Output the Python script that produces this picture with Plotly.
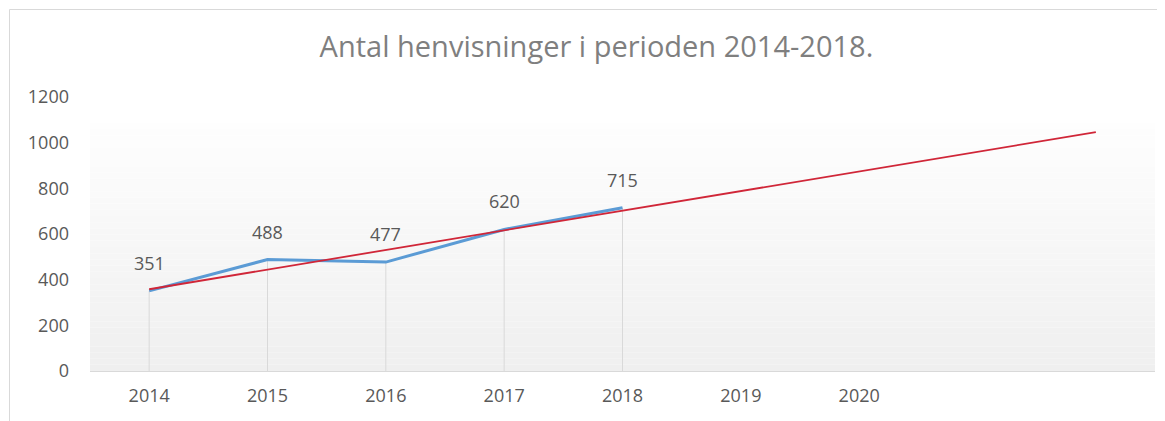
import plotly.graph_objects as go

# ---- data ----
categories = ["2014", "2015", "2016", "2017", "2018", "2019", "2020", "2021", "2022"]
tick_labels = ["2014", "2015", "2016", "2017", "2018", "2019", "2020"]
years = ["2014", "2015", "2016", "2017", "2018"]
referrals = [351, 488, 477, 620, 715]
trend_years = ["2014", "2022"]
trend_values = [358, 1046]
title_text = "Antal henvisninger i perioden 2014-2018."

FONT = "Open Sans"
TXT = "#595959"

# figure is placed by the page at an 8px offset; size it to fill the window
W, H = 1157, 413
ML, MR, MT, MB = 82, 10, 89, 50
PW = W - ML - MR
PH = H - MT - MB

fig = go.Figure()

# drop lines from each point to the axis
fig.add_trace(go.Scatter(
    x=years, y=referrals, mode="markers",
    marker=dict(size=0.1, color="rgba(0,0,0,0)"),
    error_y=dict(type="data", symmetric=False, array=[0] * len(referrals),
                 arrayminus=referrals, thickness=1, width=0, color="#d9d9d9"),
    hoverinfo="skip", showlegend=False,
))

fig.add_trace(go.Scatter(
    x=years, y=referrals, mode="lines",
    line=dict(color="#5b9bd5", width=3),
    showlegend=False, hoverinfo="skip",
))

fig.add_trace(go.Scatter(
    x=trend_years, y=trend_values, mode="lines",
    line=dict(color="#d02638", width=1.8),
    showlegend=False, hoverinfo="skip",
))

# data labels (category axes take the category index for annotations)
for x, v in zip(years, referrals):
    fig.add_annotation(x=categories.index(x), y=v, xref="x", yref="y",
                       text=str(v), showarrow=False, yshift=28,
                       font=dict(family=FONT, size=18, color=TXT))

# gradient background bands
shapes = []
n = 40
top = 0.905
c_bot = 239
c_top = 254
for i in range(n):
    y0 = top * i / n
    y1 = top * (i + 1) / n
    c = round(c_bot + (c_top - c_bot) * (i + 0.5) / n)
    shapes.append(dict(type="rect", xref="paper", yref="paper", x0=0, x1=1,
                       y0=y0, y1=y1, fillcolor=f"rgb({c},{c},{c})",
                       line=dict(width=0), layer="below"))
# outer chart border
shapes.append(dict(type="rect", xref="paper", yref="paper",
                   x0=(1.5 - ML) / PW, x1=(W + 20 - ML) / PW,
                   y0=-(MB + 20) / PH, y1=(PH + MT - 1.5) / PH,
                   line=dict(color="#d9d9d9", width=1), fillcolor="rgba(0,0,0,0)",
                   layer="below"))

fig.update_layout(
    width=W, height=H,
    margin=dict(l=ML, r=MR, t=MT, b=MB),
    paper_bgcolor="white", plot_bgcolor="white",
    title=dict(text=title_text, x=0.5086, xanchor="center", y=0.905, yanchor="middle",
               font=dict(family=FONT, size=29, color="#7f7f7f")),
    shapes=shapes,
    showlegend=False,
)
fig.update_xaxes(
    type="category", categoryorder="array", categoryarray=categories,
    tickvals=tick_labels, ticktext=tick_labels,
    range=[-0.5, len(categories) - 0.5],
    showgrid=False, zeroline=False, showline=True, linecolor="#d9d9d9", linewidth=1,
    ticks="", ticklabelstandoff=8,
    tickfont=dict(family=FONT, size=18, color=TXT),
)
fig.update_yaxes(
    range=[0, 1200], tickvals=[0, 200, 400, 600, 800, 1000, 1200],
    showgrid=False, zeroline=False, showline=False, ticks="",
    ticklabelstandoff=20,
    tickfont=dict(family=FONT, size=18, color=TXT),
)

fig.write_html("out.html")
